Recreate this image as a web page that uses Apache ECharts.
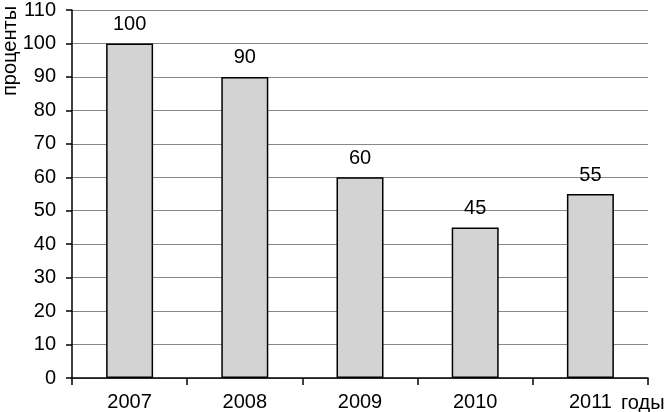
<!DOCTYPE html>
<html>
<head>
<meta charset="utf-8">
<script src="https://cdn.jsdelivr.net/npm/echarts@6/dist/echarts.min.js"></script>
<style>
  html, body { margin: 0; padding: 0; background: #fff; }
  #chart { width: 665px; height: 412px; }
</style>
</head>
<body>
<div id="chart"></div>
<script>
// данные диаграммы
var years = ['2007', '2008', '2009', '2010', '2011']
var percents = [100, 90, 60, 45, 55]
var yTicks = { min: 0, max: 110, step: 10 }

var font = 'Liberation Sans, Arial, sans-serif'
var myChart = echarts.init(document.getElementById('chart'))
var option = {
  animation: false,
  grid: { left: 72, right: 17, top: 8, bottom: 32 },
  xAxis: {
    type: 'category',
    data: years,
    axisLine: { lineStyle: { color: '#000', width: 1.5 } },
    axisTick: { show: true, length: 7, interval: 0, lineStyle: { color: '#000', width: 1.5 } },
    axisLabel: { color: '#000', fontSize: 20, fontFamily: font, margin: 14 }
  },
  yAxis: {
    type: 'value',
    min: yTicks.min,
    max: yTicks.max,
    interval: yTicks.step,
    axisLine: { show: true, lineStyle: { color: '#000', width: 1.5 } },
    axisTick: { show: true, length: 6, lineStyle: { color: '#000', width: 1.5 } },
    axisLabel: { color: '#000', fontSize: 20, fontFamily: font, margin: 16 },
    splitLine: { lineStyle: { color: '#888', width: 1 } }
  },
  series: [{
    type: 'bar',
    data: percents,
    barWidth: 47,
    itemStyle: { color: '#d3d3d3', borderColor: '#000', borderWidth: 1.5 },
    label: { show: true, position: 'top', distance: 9, color: '#000', fontSize: 20, fontFamily: font }
  }],
  graphic: [
    {
      type: 'text', x: 10, y: 51, rotation: Math.PI / 2,
      style: { text: 'проценты', fontSize: 20, fontFamily: font, fill: '#000', textAlign: 'center', textVerticalAlign: 'middle' }
    },
    {
      type: 'text', x: 621, y: 403,
      style: { text: 'годы', fontSize: 20, fontFamily: font, fill: '#000', textAlign: 'left', textVerticalAlign: 'middle' }
    }
  ]
}
myChart.setOption(option)
window.addEventListener('resize', function () {
  myChart.resize()
})
</script>
</body>
</html>
